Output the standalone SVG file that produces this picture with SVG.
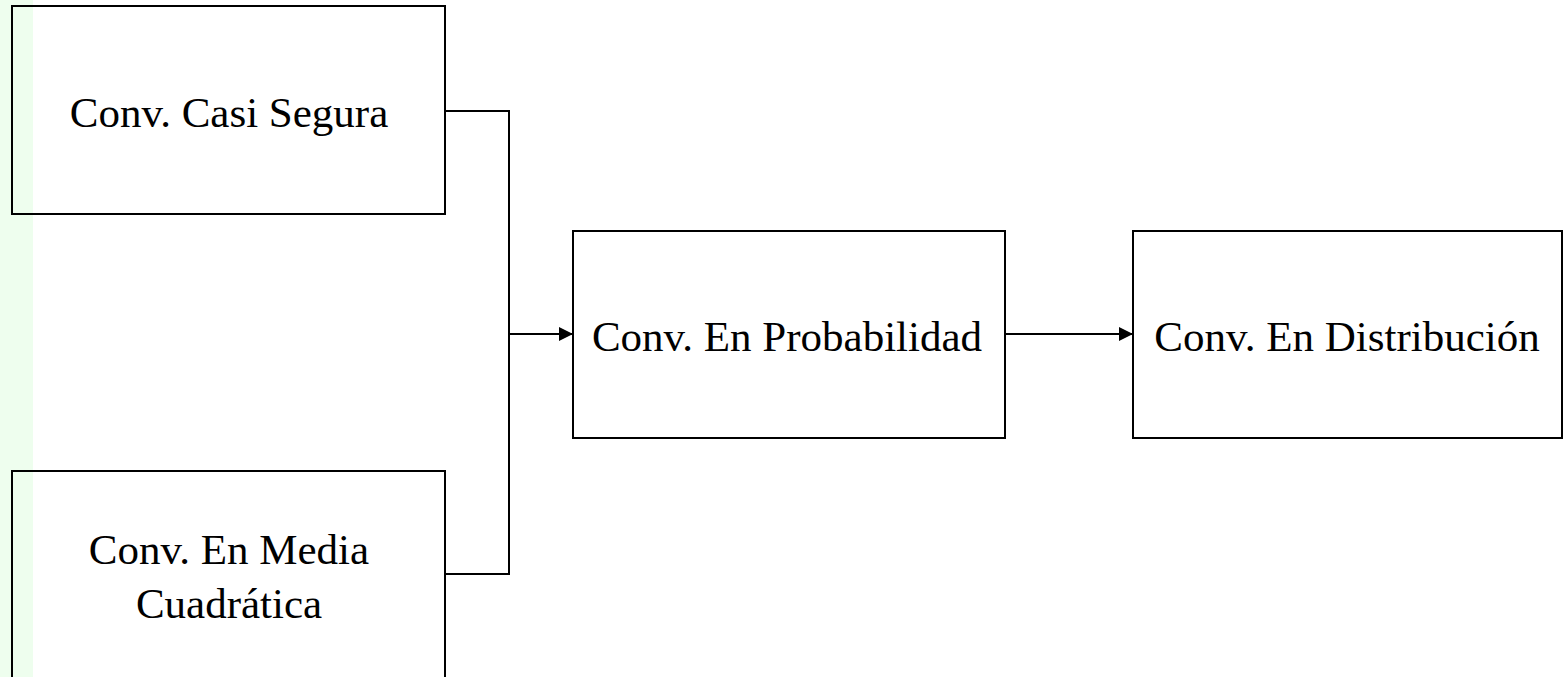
<svg xmlns="http://www.w3.org/2000/svg" width="1564" height="677" viewBox="0 0 1564 677">
<style>
.box{fill:none;stroke:#000;stroke-width:2}
.lbl{font-family:"Liberation Serif","Times New Roman",serif;font-size:43px;fill:#000;text-anchor:middle}
.conn{fill:none;stroke:#000;stroke-width:2}
</style>
<defs>
<marker id="arr" markerWidth="14" markerHeight="14" refX="14" refY="7" orient="auto" markerUnits="userSpaceOnUse">
<path d="M0,0 L14,7 L0,14 Z" fill="#000"/>
</marker>
</defs>
<rect x="0" y="0" width="1564" height="677" fill="#fff"/>
<rect x="0" y="0" width="33" height="677" fill="#EEFEEE"/>
<g id="conectores">
<polyline class="conn" points="445,111 509,111 509,574 445,574"/>
<line class="conn" x1="509" y1="334" x2="573" y2="334" marker-end="url(#arr)"/>
<line class="conn" x1="1005" y1="334" x2="1133" y2="334" marker-end="url(#arr)"/>
</g>
<g id="casi-segura">
<rect class="box" x="12" y="6" width="433" height="208"/>
<text class="lbl" x="229" y="127">Conv. Casi Segura</text>
</g>
<g id="media-cuadratica">
<rect class="box" x="12" y="471" width="433" height="230"/>
<text class="lbl" x="229" y="564">Conv. En Media</text>
<text class="lbl" x="229" y="618">Cuadrática</text>
</g>
<g id="probabilidad">
<rect class="box" x="573" y="231" width="432" height="207"/>
<text class="lbl" x="787" y="351">Conv. En Probabilidad</text>
</g>
<g id="distribucion">
<rect class="box" x="1133" y="231" width="429" height="207"/>
<text class="lbl" x="1347" y="351">Conv. En Distribución</text>
</g>
</svg>
